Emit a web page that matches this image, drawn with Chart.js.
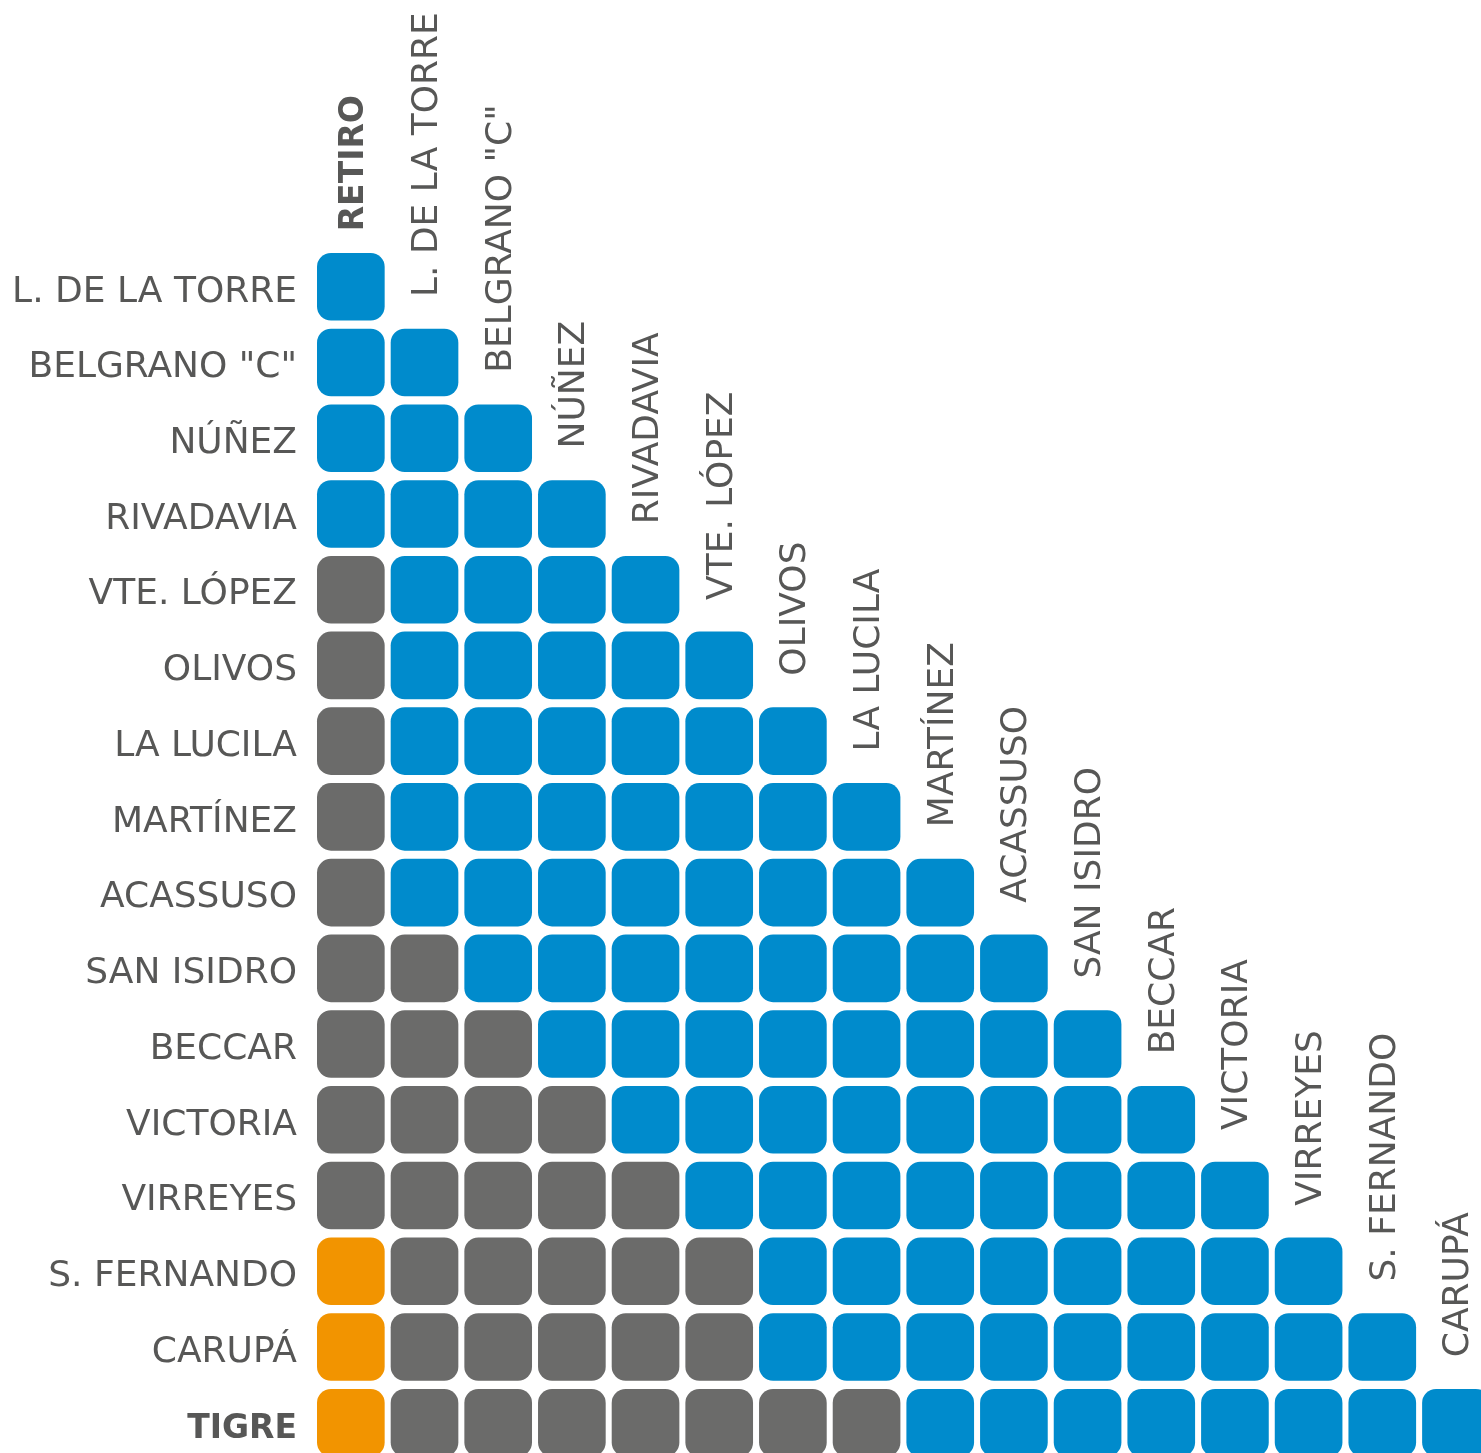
<!DOCTYPE html>
<html lang="es">
<head>
<meta charset="utf-8">
<title>Secciones Línea Mitre - Ramal Tigre</title>
<script src="https://cdn.jsdelivr.net/npm/chart.js@4.4.1/dist/chart.umd.min.js"></script>
<style>
    html, body { margin: 0; padding: 0; background: #ffffff; overflow: hidden; }
    #contenedor { position: relative; width: 1481px; height: 1453px; }
</style>
</head>
<body>
<div id="contenedor"><canvas id="grafico-secciones"></canvas></div>
<script>
// Estaciones del ramal (columnas = origen, filas = destino)
const estaciones = ['RETIRO', 'L. DE LA TORRE', 'BELGRANO "C"', 'NÚÑEZ', 'RIVADAVIA', 'VTE. LÓPEZ',
    'OLIVOS', 'LA LUCILA', 'MARTÍNEZ', 'ACASSUSO', 'SAN ISIDRO', 'BECCAR', 'VICTORIA',
    'VIRREYES', 'S. FERNANDO', 'CARUPÁ', 'TIGRE'];
const columnas = estaciones.slice(0, 16);
const filas = estaciones.slice(1);
const destacadas = ['RETIRO', 'TIGRE'];

// Sección tarifaria de cada par (1 = azul, 2 = gris, 3 = naranja)
const secciones = [
    [1],
    [1, 1],
    [1, 1, 1],
    [1, 1, 1, 1],
    [2, 1, 1, 1, 1],
    [2, 1, 1, 1, 1, 1],
    [2, 1, 1, 1, 1, 1, 1],
    [2, 1, 1, 1, 1, 1, 1, 1],
    [2, 1, 1, 1, 1, 1, 1, 1, 1],
    [2, 2, 1, 1, 1, 1, 1, 1, 1, 1],
    [2, 2, 2, 1, 1, 1, 1, 1, 1, 1, 1],
    [2, 2, 2, 2, 1, 1, 1, 1, 1, 1, 1, 1],
    [2, 2, 2, 2, 2, 1, 1, 1, 1, 1, 1, 1, 1],
    [3, 2, 2, 2, 2, 2, 1, 1, 1, 1, 1, 1, 1, 1],
    [3, 2, 2, 2, 2, 2, 1, 1, 1, 1, 1, 1, 1, 1, 1],
    [3, 2, 2, 2, 2, 2, 2, 2, 1, 1, 1, 1, 1, 1, 1, 1]
];
const codigos = [1, 2, 3];
const colores = ['#008bcc', '#6b6b6a', '#f29400'];

const MEDIA_ALTURA = 0.442; // media altura de cada celda, en unidades de fila
const COLOR_TEXTO = '#575756';
const FUENTE = '"DejaVu Sans", sans-serif';

// un dataset por sección; cada celda es una barra flotante
const datasets = codigos.map((cod, k) => {
    const puntos = [];
    secciones.forEach((fila, i) => {
        fila.forEach((s, j) => {
            if (s === cod) puntos.push({ x: j, y: [i - MEDIA_ALTURA, i + MEDIA_ALTURA] });
        });
    });
    return {
        label: 'Sección ' + cod,
        data: puntos,
        backgroundColor: colores[k],
        borderWidth: 0,
        borderRadius: 14,
        borderSkipped: false,
        barThickness: 67,
        grouped: false
    };
});

// Etiquetas de filas (izquierda) y columnas (verticales, en diagonal)
const pluginEtiquetas = {
    id: 'etiquetas',
    afterDraw(chart) {
        const { ctx, scales } = chart;
        const xS = scales.x, yS = scales.y;
        ctx.save();
        ctx.fillStyle = COLOR_TEXTO;
        ctx.textBaseline = 'alphabetic';

        // filas
        ctx.textAlign = 'right';
        filas.forEach((nombre, i) => {
            const bold = destacadas.includes(nombre);
            ctx.font = (bold ? 'bold 33px ' : '36px ') + FUENTE;
            const yc = yS.getPixelForValue(i);
            ctx.fillText(nombre, xS.left - 17, yc + 14.8);
        });

        // columnas
        ctx.textAlign = 'left';
        columnas.forEach((nombre, j) => {
            const bold = destacadas.includes(nombre);
            ctx.font = (bold ? 'bold 33px ' : '36px ') + FUENTE;
            const xc = xS.getPixelForValue(j);
            const arriba = yS.getPixelForValue(j - MEDIA_ALTURA);
            const inicio = arriba - (bold ? 22 : 32);
            ctx.save();
            ctx.translate(xc + 12.5, inicio);
            ctx.rotate(-Math.PI / 2);
            ctx.fillText(nombre, 0, 0);
            ctx.restore();
        });
        ctx.restore();
    }
};

new Chart(document.getElementById('grafico-secciones'), {
    type: 'bar',
    data: { datasets: datasets },
    options: {
        responsive: true,
        maintainAspectRatio: false,
        animation: false,
        layout: { padding: { left: 314, right: 0, top: 0, bottom: 0 } },
        plugins: {
            legend: { display: false },
            tooltip: { enabled: false }
        },
        scales: {
            x: { type: 'linear', min: -0.5, max: 15.34, offset: false, display: false },
            y: { type: 'linear', min: -3.787, max: 15.40, reverse: true, display: false }
        }
    },
    plugins: [pluginEtiquetas]
});
</script>
</body>
</html>
